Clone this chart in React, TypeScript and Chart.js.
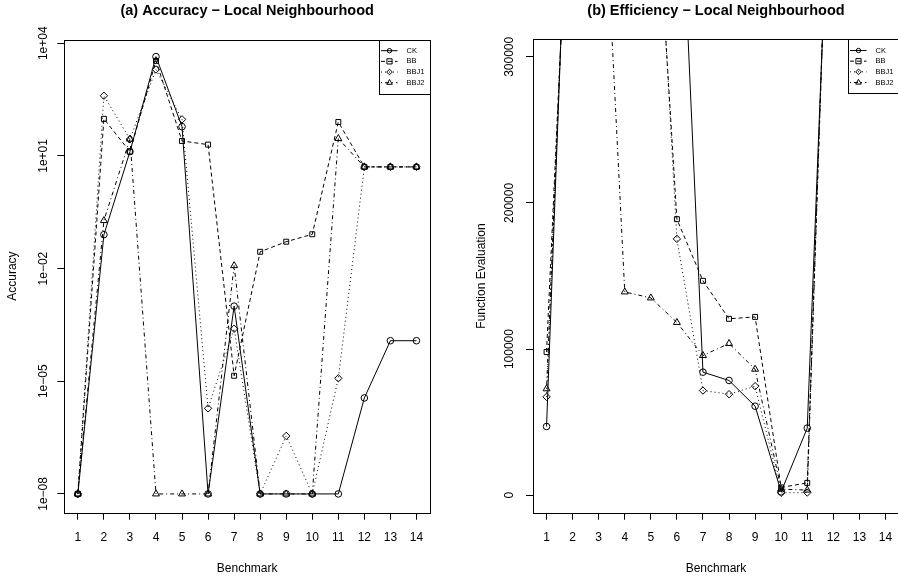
import React, { useEffect, useRef } from 'react';
import { Chart, registerables } from 'chart.js';

Chart.register(...registerables);

const FONT = '"Liberation Sans", Arial, Helvetica, sans-serif';

// ---------- data ----------
const benchmarks = [1, 2, 3, 4, 5, 6, 7, 8, 9, 10, 11, 12, 13, 14];
const seriesNames = ['CK', 'BB', 'BBJ1', 'BBJ2'];

// (a) Accuracy (log scale)
const accCK = [1e-8, 0.08, 13, 4400, 60, 1e-8, 1e-3, 1e-8, 1e-8, 1e-8, 1e-8, 3.6e-6, 1.2e-4, 1.2e-4];
const accBB = [1e-8, 97, 13, 3400, 25, 20, 1.4e-5, 0.028, 0.052, 0.082, 80, 5.1, 5.1, 5.1];
const accBBJ1 = [1e-8, 400, 28, 2000, 94, 1.9e-6, 2.5e-4, 1e-8, 3.5e-7, 1e-8, 1.2e-5, 5.1, 5.1, 5.1];
const accBBJ2 = [1e-8, 0.19, 28, 1e-8, 1e-8, 1e-8, 0.012, 1e-8, 1e-8, 1e-8, 29, 5.1, 5.1, 5.1];
const accTicks = [1e4, 1e1, 1e-2, 1e-5, 1e-8];
const accTickLabels = ['1e+04', '1e+01', '1e\u221202', '1e\u221205', '1e\u221208'];

// (b) Efficiency (function evaluations)
const effCK = [47000, 528000, 600000, 580000, 560000, 484000, 84200, 78500, 60900, 2300, 45900, 504000, 560000, 580000];
const effBB = [98000, 487000, 560000, 540000, 478000, 188900, 146700, 120700, 122000, 5300, 8400, 534000, 570000, 590000];
const effBBJ1 = [67300, 512000, 570000, 550000, 496800, 175400, 71600, 69100, 74600, 1600, 1800, 534000, 565000, 585000];
const effBBJ2 = [72800, 508000, 494600, 139100, 135000, 118200, 95600, 103800, 86200, 4100, 3500, 534000, 575000, 595000];
const effTicks = [0, 100000, 200000, 300000];
const effTickLabels = ['0', '100000', '200000', '300000'];

// ---------- styles ----------
const seriesStyles = [
  { dash: [] as number[], pointStyle: 'circle', radius: 3.3, lr: 2.2 },
  { dash: [4, 3], pointStyle: 'rect', radius: 3.5, lr: 2.6 },
  { dash: [1, 3], pointStyle: 'rectRot', radius: 3.7, lr: 2.8 },
  { dash: [1, 3, 4, 3], pointStyle: 'triangle', radius: 4.0, lr: 3.2 },
];

function makeDatasets(series: number[][]) {
  return series.map((vals, i) => ({
    label: seriesNames[i],
    data: benchmarks.map((b, j) => ({ x: b, y: vals[j] })),
    borderColor: '#000',
    borderWidth: 1,
    borderDash: seriesStyles[i].dash,
    pointStyle: seriesStyles[i].pointStyle,
    pointRadius: seriesStyles[i].radius,
    pointBorderColor: '#000',
    pointBackgroundColor: 'rgba(0,0,0,0)',
    pointBorderWidth: 1,
    tension: 0,
    fill: false,
  }));
}

function drawMarker(ctx: CanvasRenderingContext2D, style: string, x: number, y: number, r: number) {
  ctx.beginPath();
  if (style === 'circle') {
    ctx.arc(x, y, r, 0, Math.PI * 2);
  } else if (style === 'rect') {
    ctx.rect(x - r, y - r, 2 * r, 2 * r);
  } else if (style === 'rectRot') {
    ctx.moveTo(x - r, y);
    ctx.lineTo(x, y - r);
    ctx.lineTo(x + r, y);
    ctx.lineTo(x, y + r);
    ctx.closePath();
  } else {
    ctx.moveTo(x, y - r);
    ctx.lineTo(x + r * 0.866, y + r * 0.5);
    ctx.lineTo(x - r * 0.866, y + r * 0.5);
    ctx.closePath();
  }
  ctx.stroke();
}

function decorPlugin(title: string, yTitle: string) {
  return {
    id: 'decor',
    afterDraw(chart: any) {
      const ctx: CanvasRenderingContext2D = chart.ctx;
      const ca = chart.chartArea;
      ctx.save();
      ctx.strokeStyle = '#000';
      ctx.fillStyle = '#000';
      ctx.lineWidth = 1;
      ctx.setLineDash([]);
      // plot box
      const l = Math.round(ca.left) + 0.5;
      const t = Math.round(ca.top) + 0.5;
      const r = Math.round(ca.right) + 0.5;
      const b = Math.round(ca.bottom) + 0.5;
      ctx.strokeRect(l, t, r - l, b - t);

      // title
      ctx.font = `bold 14.5px ${FONT}`;
      ctx.textAlign = 'center';
      ctx.textBaseline = 'alphabetic';
      ctx.fillText(title, (ca.left + ca.right) / 2, 15);

      // x title
      ctx.font = `12px ${FONT}`;
      ctx.fillText('Benchmark', (ca.left + ca.right) / 2, 571.5);

      // y title
      ctx.save();
      ctx.translate(ca.left - 48, (ca.top + ca.bottom) / 2);
      ctx.rotate(-Math.PI / 2);
      ctx.fillText(yTitle, 0, 0);
      ctx.restore();

      // legend
      const bw = 51.5;
      const bl = ca.right - bw;
      const bt = ca.top;
      const bh = 54;
      ctx.fillStyle = '#fff';
      ctx.fillRect(Math.round(bl) + 0.5, t, bw, bh);
      ctx.fillStyle = '#000';
      ctx.strokeRect(Math.round(bl) + 0.5, t, Math.round(ca.right) - Math.round(bl), bh);
      ctx.font = `7.5px ${FONT}`;
      ctx.textAlign = 'left';
      ctx.textBaseline = 'middle';
      chart.data.datasets.forEach((ds: any, i: number) => {
        const y = bt + 11.2 + i * 10.67;
        const st = seriesStyles[i];
        ctx.setLineDash(st.dash);
        ctx.beginPath();
        ctx.moveTo(bl + 2.5, y);
        ctx.lineTo(bl + 19, y);
        ctx.stroke();
        ctx.setLineDash([]);
        drawMarker(ctx, st.pointStyle, bl + 11, y, st.lr);
        ctx.fillText(ds.label, bl + 28, y);
      });
      ctx.restore();
    },
  };
}

function xScale() {
  return {
    type: 'linear',
    min: 0.48,
    max: 14.52,
    afterBuildTicks: (s: any) => {
      s.ticks = benchmarks.map((v) => ({ value: v }));
    },
    afterFit: (s: any) => {
      s.height = 579 - 512.7;
    },
    ticks: {
      autoSkip: false,
      maxRotation: 0,
      minRotation: 0,
      padding: 11,
      color: '#000',
      font: { family: FONT, size: 12 },
      callback: (v: any) => String(v),
    },
    grid: { drawOnChartArea: false, drawTicks: true, tickLength: 7, color: '#000', lineWidth: 1 },
    border: { display: false },
  };
}

function accuracyConfig(): any {
  return {
    type: 'line',
    data: { datasets: makeDatasets([accCK, accBB, accBBJ1, accBBJ2]) },
    options: {
      animation: false,
      responsive: false,
      events: [],
      layout: { padding: { left: 0, top: 39.5, right: 449 - 430, bottom: 0 } },
      plugins: { legend: { display: false }, title: { display: false }, tooltip: { enabled: false } },
      scales: {
        x: xScale(),
        y: {
          type: 'logarithmic',
          min: Math.pow(10, -8.5),
          max: Math.pow(10, 4.1),
          afterBuildTicks: (s: any) => {
            s.ticks = accTicks.map((v) => ({ value: v }));
          },
          afterFit: (s: any) => {
            s.width = 64.3;
          },
          ticks: {
            autoSkip: false,
            minRotation: 90,
            maxRotation: 90,
            crossAlign: 'center',
            padding: -2.85,
            color: '#000',
            font: { family: FONT, size: 12 },
            callback: (_v: any, i: number) => accTickLabels[i],
          },
          grid: { drawOnChartArea: false, drawTicks: true, tickLength: 7, color: '#000', lineWidth: 1 },
          border: { display: false },
        },
      },
    },
    plugins: [decorPlugin('(a) Accuracy \u2212 Local Neighbourhood', 'Accuracy')],
  };
}

function efficiencyConfig(): any {
  return {
    type: 'line',
    data: { datasets: makeDatasets([effCK, effBB, effBBJ1, effBBJ2]) },
    options: {
      animation: false,
      responsive: false,
      events: [],
      layout: { padding: { left: 0, top: 39.3, right: 460 - 450, bottom: 0 } },
      plugins: { legend: { display: false }, title: { display: false }, tooltip: { enabled: false } },
      scales: {
        x: xScale(),
        y: {
          type: 'linear',
          min: -12000,
          max: 312000,
          afterBuildTicks: (s: any) => {
            s.ticks = effTicks.map((v) => ({ value: v }));
          },
          afterFit: (s: any) => {
            s.width = 84;
          },
          ticks: {
            autoSkip: false,
            minRotation: 90,
            maxRotation: 90,
            crossAlign: 'center',
            padding: -4,
            color: '#000',
            font: { family: FONT, size: 12 },
            callback: (_v: any, i: number) => effTickLabels[i],
          },
          grid: { drawOnChartArea: false, drawTicks: true, tickLength: 7, color: '#000', lineWidth: 1 },
          border: { display: false },
        },
      },
    },
    plugins: [decorPlugin('(b) Efficiency \u2212 Local Neighbourhood', 'Function Evaluation')],
  };
}

export default function App() {
  const refA = useRef<HTMLCanvasElement>(null);
  const refB = useRef<HTMLCanvasElement>(null);
  useEffect(() => {
    const a = new Chart(refA.current as HTMLCanvasElement, accuracyConfig());
    const b = new Chart(refB.current as HTMLCanvasElement, efficiencyConfig());
    return () => {
      a.destroy();
      b.destroy();
    };
  }, []);
  return (
    <div
      style={{
        position: 'fixed',
        left: 0,
        top: 0,
        width: 898,
        height: 579,
        overflow: 'hidden',
        background: '#fff',
      }}
    >
      <canvas ref={refA} width={449} height={579} style={{ position: 'absolute', left: 0, top: 0 }} />
      <canvas ref={refB} width={460} height={579} style={{ position: 'absolute', left: 449, top: 0 }} />
    </div>
  );
}
